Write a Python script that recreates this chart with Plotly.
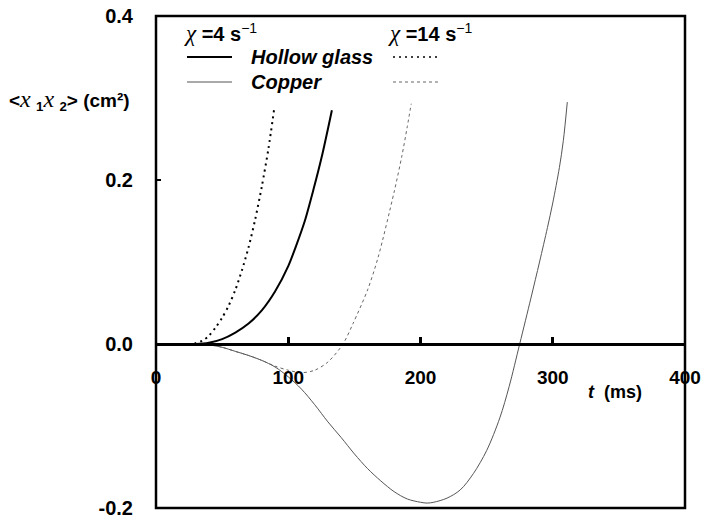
import plotly.graph_objects as go

# ---- data ----
t_glass_4 = [20, 30, 40, 50, 60, 70, 80, 90, 100, 106, 112.5, 119, 126, 133]
v_glass_4 = [0, 0, 0.0015, 0.006, 0.014, 0.025, 0.041, 0.064, 0.095, 0.120, 0.150, 0.188, 0.233, 0.285]

t_glass_14 = [20, 25, 30, 35, 40, 45, 50, 55, 60, 65, 70, 75, 80, 85, 89.3]
v_glass_14 = [0, 0, 0.001, 0.004, 0.010, 0.020, 0.032, 0.047, 0.066, 0.090, 0.118, 0.152, 0.192, 0.238, 0.286]

t_copper_4 = [20, 30, 40, 50, 60, 70, 80, 90, 100, 110, 120, 130, 140, 150, 160, 170, 180, 190,
              200, 205, 210, 220, 230, 240, 250, 260, 267, 275, 283.5, 290, 296, 300, 305, 308, 311]
v_copper_4 = [0, 0, -0.001, -0.004, -0.009, -0.014, -0.020, -0.028, -0.040, -0.055, -0.074, -0.095,
              -0.114, -0.134, -0.152, -0.167, -0.180, -0.189, -0.193, -0.194, -0.193, -0.188, -0.178,
              -0.158, -0.130, -0.090, -0.052, 0.0, 0.056, 0.100, 0.142, 0.172, 0.215, 0.248, 0.295]

t_copper_14 = [20, 30, 40, 50, 60, 70, 80, 90, 100, 110, 120, 130, 141.4, 149, 160, 168, 180, 186, 190, 193]
v_copper_14 = [0, 0, -0.001, -0.004, -0.009, -0.014, -0.020, -0.027, -0.032, -0.035, -0.032, -0.022,
               0.0, 0.025, 0.066, 0.106, 0.185, 0.230, 0.265, 0.293]

x_tick_vals = [0, 100, 200, 300, 400]
x_tick_text = ["0", "100", "200", "300", "400"]
y_tick_vals = [-0.2, 0.0, 0.2, 0.4]
y_tick_text = ["-0.2", "0.0", "0.2", "0.4"]

# ---- layout geometry (pixels) ----
W, H = 701, 519
L, R, T, B = 156, 16, 16, 11
PW, PH = W - L - R, H - T - B


def px(xp):
    return (xp - L) / PW


def py(yp):
    return (H - B - yp) / PH


FONT = "Liberation Sans, Arial, sans-serif"
SERIF = "Liberation Serif, Times New Roman, serif"

fig = go.Figure()
fig.add_trace(go.Scatter(x=t_glass_4, y=v_glass_4, mode="lines",
                         line=dict(color="black", width=2, shape="spline", smoothing=0.8), showlegend=False))
fig.add_trace(go.Scatter(x=t_glass_14, y=v_glass_14, mode="lines",
                         line=dict(color="black", width=2, dash="2px,4px", shape="spline", smoothing=0.8),
                         showlegend=False))
fig.add_trace(go.Scatter(x=t_copper_4, y=v_copper_4, mode="lines",
                         line=dict(color="#555555", width=1, shape="spline", smoothing=0.9), showlegend=False))
fig.add_trace(go.Scatter(x=t_copper_14, y=v_copper_14, mode="lines",
                         line=dict(color="#666666", width=1, dash="3px,3px", shape="spline", smoothing=0.8),
                         showlegend=False))

fig.update_layout(
    width=W, height=H,
    margin=dict(l=L, r=R, t=T, b=B, autoexpand=False),
    plot_bgcolor="white", paper_bgcolor="white",
    font=dict(family=FONT, color="black"),
    xaxis=dict(range=[0, 400], anchor="free", position=1 / 3, automargin=False,
               showline=True, linewidth=3, linecolor="black",
               ticks="inside", ticklen=6, tickwidth=2.5, tickcolor="black",
               tickvals=x_tick_vals, ticktext=x_tick_text,
               ticklabelstandoff=15, ticklabeloverflow="allow",
               tickfont=dict(size=19, weight="bold", family=FONT),
               showgrid=False, zeroline=False),
    yaxis=dict(range=[-0.2, 0.4], showline=False, automargin=False,
               ticks="inside", ticklen=5, tickwidth=2, tickcolor="black",
               tickvals=y_tick_vals, ticktext=y_tick_text,
               ticklabelstandoff=22, ticklabeloverflow="allow",
               tickfont=dict(size=20, weight="bold", family=FONT),
               showgrid=False, zeroline=False),
)

# frame
fig.add_shape(type="rect", xref="paper", yref="paper", x0=0, x1=1, y0=0, y1=1,
              line=dict(color="black", width=2.5), layer="above")

# legend samples
fig.add_shape(type="line", xref="paper", yref="paper", x0=px(187), x1=px(232), y0=py(57), y1=py(57),
              line=dict(color="black", width=2))
fig.add_shape(type="line", xref="paper", yref="paper", x0=px(187), x1=px(232), y0=py(82), y1=py(82),
              line=dict(color="#555555", width=1))
fig.add_shape(type="line", xref="paper", yref="paper", x0=px(393), x1=px(438), y0=py(57), y1=py(57),
              line=dict(color="black", width=1.5, dash="2px,4px"))
fig.add_shape(type="line", xref="paper", yref="paper", x0=px(393), x1=px(438), y0=py(82), y1=py(82),
              line=dict(color="#666666", width=1, dash="3px,3px"))

chi = f'<span style="font-family:{SERIF};font-weight:normal;font-size:23px"><i>χ</i></span>'
ann = [
    dict(text=f"{chi} <b>=4 s</b><sup>−1</sup>", x=px(182), y=py(33)),
    dict(text=f"{chi} <b>=14 s</b><sup>−1</sup>", x=px(386), y=py(33)),
    dict(text="<b><i>Hollow glass</i></b>", x=px(249), y=py(57)),
    dict(text="<b><i>Copper</i></b>", x=px(249), y=py(82)),
]
for a in ann:
    fig.add_annotation(xref="paper", yref="paper", xanchor="left", yanchor="middle",
                       showarrow=False, font=dict(size=20, family=FONT, color="black"), **a)

xs = f'<span style="font-family:{SERIF};font-size:24px"><i>x</i></span>'
fig.add_annotation(xref="paper", yref="paper", x=px(7), y=py(100), xanchor="left", yanchor="middle",
                   showarrow=False, font=dict(size=19, family=FONT, color="black"),
                   text=(f"<b>&lt;</b>{xs}&nbsp;<sub><b>1</b></sub>{xs}&nbsp;"
                         f"<sub><b>2</b></sub><b>&gt;&nbsp;(cm²)</b>"))
fig.add_annotation(xref="paper", yref="paper", x=px(586), y=py(392), xanchor="left", yanchor="middle",
                   showarrow=False, font=dict(size=18, family=FONT, color="black"),
                   text="<b><i>t</i></b><b>&nbsp;&nbsp;(ms)</b>")

fig.write_html("out.html")
